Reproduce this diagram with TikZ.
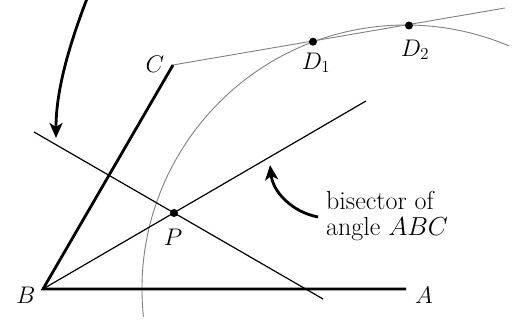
\RequirePackage{fix-cm}
\documentclass[tikz,border=0pt]{standalone}
\usetikzlibrary{arrows.meta,calc}
\begin{document}
\begin{tikzpicture}[x=1pt,y=1pt,
  thickline/.style={line width=2.8pt,line join=miter},
  thinline/.style={line width=1.2pt},
  greyline/.style={draw=black!50,line width=0.9pt},
  dotnode/.style={circle,fill=black,inner sep=0pt,minimum size=8pt},
  lbl/.style={font=\fontsize{24}{28}\selectfont,inner sep=0pt},
  callout/.style={line width=2.8pt,-{Stealth[length=15pt,width=13pt,inset=4pt]}}]
\useasboundingbox (0,0) rectangle (515,320);
\coordinate (B) at (43,31);
\coordinate (A) at (406,31);
\coordinate (C) at (173,255);
\coordinate (E) at (505,312);
\coordinate (Bis) at (366,219);
\coordinate (L1) at (34,188);
\coordinate (L2) at (323,21);
\coordinate (T1) at (88,324);
\coordinate (T2) at (56,182);
\coordinate (S1) at (318,103);
\coordinate (S2) at (270,155);
% construction arc centred at A and line from C
\draw[greyline] ($(A)+(186:264)$) arc[start angle=186,end angle=67,radius=264];
\draw[greyline] (C) -- (E);
% thin lines
\draw[thinline] (B) -- (Bis);
\draw[thinline] (L1) -- (L2);
% angle sides
\draw[thickline] (A) -- (B) -- (C);
% points
\node[dotnode] (D1) at (313,278.3) {};
\node[dotnode] (D2) at (409,294.5) {};
\node[dotnode] (P) at (174,107) {};
% labels
\node[lbl] (lB) at (26,25) {$B$};
\node[lbl] (lA) at (424,25) {$A$};
\node[lbl] (lC) at (155,256) {$C$};
\node[lbl] (lD1) at (316,257) {$D_1$};
\node[lbl] (lD2) at (415,270) {$D_2$};
\node[lbl] (lP) at (173,83) {$P$};
\node[lbl,font=\fontsize{26}{26.5}\selectfont,align=left,anchor=north west] (txt) at (326,129) {bisector of\\angle $ABC$};
% callout arrows
\draw[callout] (T1) .. controls (64,262) and (56,222) .. (T2);
\draw[callout] (S1) .. controls (292,108) and (273,128) .. (S2);
\end{tikzpicture}
\end{document}
